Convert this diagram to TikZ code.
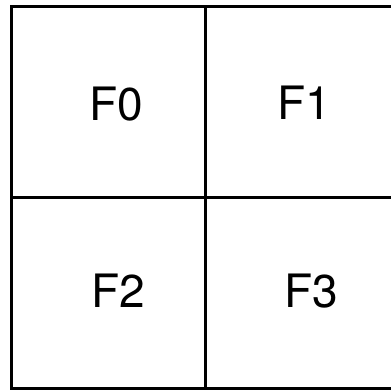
\documentclass[tikz,border=0pt]{standalone}
\usepackage{fontspec}
\setmainfont{TeX Gyre Heros}
\begin{document}
\begin{tikzpicture}[x=1pt,y=-1pt,
  gridline/.style={line width=3pt,line cap=rect},
  lab/.style={font=\fontsize{46}{50}\selectfont,inner sep=0pt,anchor=base}]
\useasboundingbox (0,0) rectangle (391,391);
\clip (0,0) rectangle (391,391);
\draw[gridline] (400,6) -- (11,6) -- (11,388) -- (400,388);
\draw[gridline] (205,6) -- (205,388);
\draw[gridline] (11,197) -- (400,197);
\node[lab] (f0) at (116,120) {F0};
\node[lab] (f1) at (304,119) {F1};
\node[lab] (f2) at (118,307) {F2};
\node[lab] (f3) at (311,307) {F3};
\end{tikzpicture}
\end{document}
